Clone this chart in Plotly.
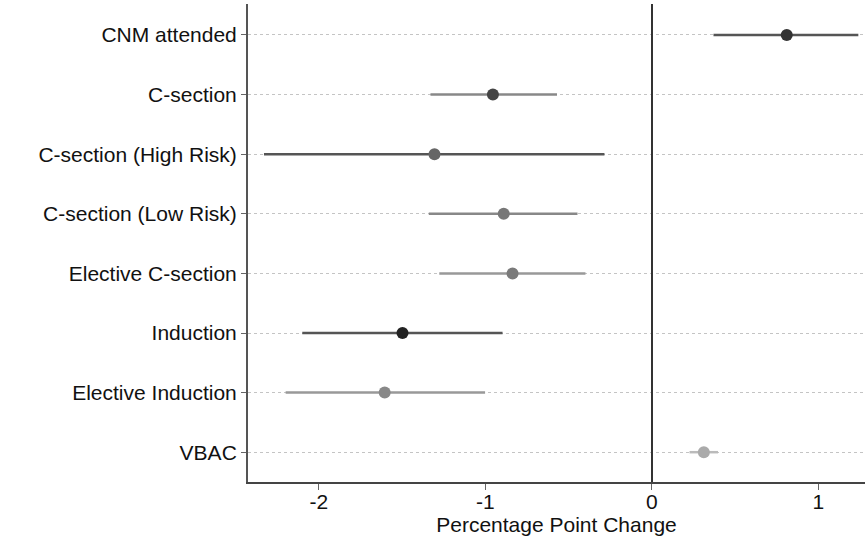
import plotly.graph_objects as go

categories = ["CNM attended", "C-section", "C-section (High Risk)", "C-section (Low Risk)",
              "Elective C-section", "Induction", "Elective Induction", "VBAC"]
estimates = [0.81, -0.955, -1.306, -0.89, -0.837, -1.498, -1.605, 0.312]
ci_low = [0.37, -1.33, -2.33, -1.34, -1.277, -2.10, -2.20, 0.226]
ci_high = [1.24, -0.57, -0.285, -0.447, -0.399, -0.897, -1.002, 0.397]
marker_colors = ["#333333", "#444444", "#666666", "#777777", "#7a7a7a", "#222222", "#888888", "#aaaaaa"]
line_colors = ["#555555", "#888888", "#555555", "#888888", "#999999", "#555555", "#999999", "#bbbbbb"]
x_ticks = [-2, -1, 0, 1]

fig = go.Figure()
for cat, est, lo, hi, mc, lc in zip(categories, estimates, ci_low, ci_high, marker_colors, line_colors):
    fig.add_trace(go.Scatter(
        x=[est], y=[cat], mode="markers",
        marker=dict(color=mc, size=12),
        error_x=dict(type="data", symmetric=False, array=[hi - est], arrayminus=[est - lo],
                     color=lc, thickness=2.5, width=0),
        showlegend=False,
    ))

font = dict(family="Liberation Sans, Arial, sans-serif", size=21, color="#111111")
fig.update_layout(
    width=865, height=541,
    margin=dict(l=248, r=0, t=4, b=59),
    paper_bgcolor="white", plot_bgcolor="white",
    font=font,
    xaxis=dict(range=[-2.426, 1.28], tickvals=x_ticks, ticktext=[str(t) for t in x_ticks],
               showgrid=False, zeroline=True, zerolinecolor="#333333", zerolinewidth=1.5,
               showline=True, linecolor="#444444", linewidth=2,
               ticks="outside", ticklen=6, tickcolor="#666666", tickwidth=1,
               ticklabelstandoff=-6,
               title=dict(text="Percentage Point Change", standoff=0, font=font),
               tickfont=font),
    yaxis=dict(type="category", categoryorder="array", categoryarray=categories[::-1],
               range=[-0.5, 7.52],
               showgrid=True, gridcolor="#c4c4c4", griddash="dot", gridwidth=1,
               showline=True, linecolor="#555555", linewidth=2,
               ticks="outside", ticklen=5, tickcolor="#666666", tickwidth=1,
               tickfont=font),
)

fig.write_html("out.html", config={"displayModeBar": False},
               post_script="document.body.style.margin='0';")
